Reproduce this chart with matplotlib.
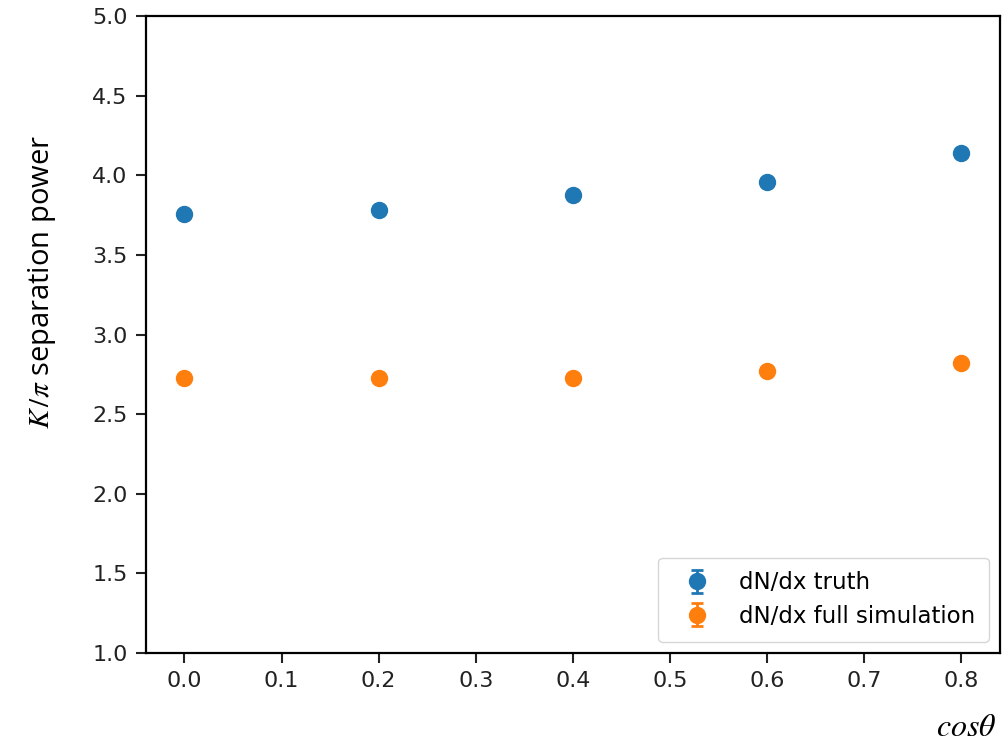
import matplotlib
matplotlib.use("Agg")
import matplotlib.pyplot as plt

# --------- dados ---------
cos_theta    = [0.0, 0.2, 0.4, 0.6, 0.8]
sep_truth    = [3.76, 3.78, 3.88, 3.96, 4.14]
sep_fullsim  = [2.73, 2.73, 2.73, 2.77, 2.82]
err_truth    = [0.01, 0.01, 0.01, 0.01, 0.01]
err_fullsim  = [0.01, 0.01, 0.01, 0.01, 0.01]
y_ticks      = [1.0, 1.5, 2.0, 2.5, 3.0, 3.5, 4.0, 4.5, 5.0]
x_ticks      = [0.0, 0.1, 0.2, 0.3, 0.4, 0.5, 0.6, 0.7, 0.8]

plt.rcParams["mathtext.fontset"] = "stix"

fig = plt.figure(figsize=(10.04, 7.42), dpi=100)
ax = fig.add_axes([0.145, 0.12, 0.851, 0.858])

ax.errorbar(cos_theta, sep_truth, yerr=err_truth, fmt="o", color="#1f77b4",
            markersize=11.5, capsize=4, elinewidth=2, capthick=2,
            label="dN/dx truth")
ax.errorbar(cos_theta, sep_fullsim, yerr=err_fullsim, fmt="o", color="#ff7f0e",
            markersize=11.5, capsize=4, elinewidth=2, capthick=2,
            label="dN/dx full simulation")

ax.set_ylim(1.0, 5.0)
ax.set_yticks(y_ticks)
ax.set_xticks(x_ticks)
ax.set_yticklabels([f"{v:.1f}" for v in y_ticks])
ax.set_xticklabels([f"{v:.1f}" for v in x_ticks])
ax.tick_params(labelsize=16, length=7, width=1.5, pad=6, colors="#222222")
for s in ax.spines.values():
    s.set_linewidth(1.6)

leg = ax.legend(loc="lower right", fontsize=16.5, handletextpad=0.7,
                borderpad=0.6, labelspacing=0.45, framealpha=0.8,
                handlelength=2.2)

# rótulos colados como na figura original
fig.text(0.042, 0.62, r"$K\,/\pi$ separation power", rotation=90,
         ha="center", va="center", fontsize=21, family="Open Sans")
fig.text(0.962, 0.019, r"$cos\theta$", ha="center", va="center", fontsize=23)

fig.savefig("out.png", dpi=100)
